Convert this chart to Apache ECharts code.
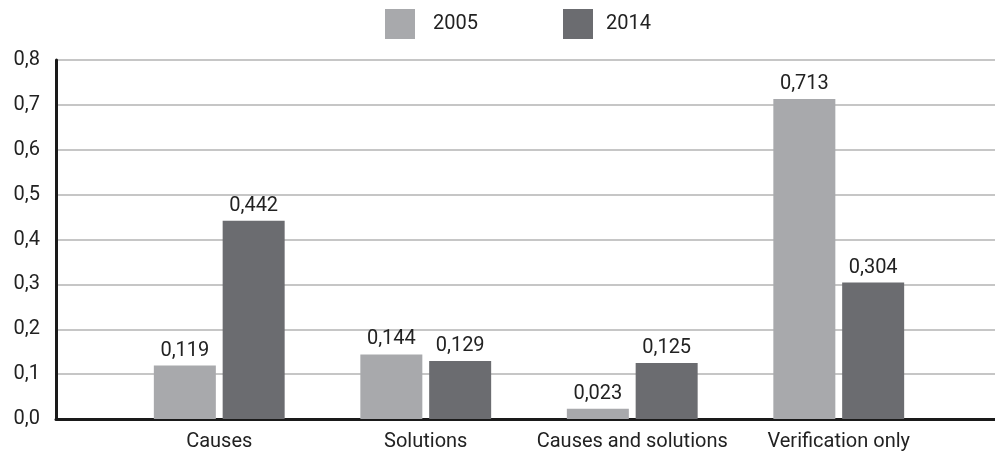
<!DOCTYPE html>
<html>
<head>
<meta charset="utf-8">
<script src="https://cdn.jsdelivr.net/npm/echarts@6/dist/echarts.min.js"></script>
<style>
  html, body { margin: 0; padding: 0; background: #fff; }
  #chart { width: 995px; height: 457px; }
</style>
</head>
<body>
<div id="chart"></div>
<script>
// Categories and values per year
const categories = ['Causes', 'Solutions', 'Causes and solutions', 'Verification only'];
const values2005 = [0.119, 0.144, 0.023, 0.713];
const values2014 = [0.442, 0.129, 0.125, 0.304];
const yTicks = [0, 0.1, 0.2, 0.3, 0.4, 0.5, 0.6, 0.7, 0.8];

const FONT = 'Roboto';
const FS = 20;
const TEXT = '#222222';
const comma = (v, d) => v.toFixed(d).replace('.', ',');

const chart = echarts.init(document.getElementById('chart'));

const plotTop = 60, plotBottom = 457 - 419;
const yMin = yTicks[0], yMax = yTicks[yTicks.length - 1], yStep = yTicks[1] - yTicks[0];

const valueLabel = {
  show: true, position: 'top', distance: 5,
  fontFamily: FONT, fontSize: FS, color: TEXT,
  formatter: p => comma(p.value, 3)
};

chart.setOption({
  animation: false,
  textStyle: { fontFamily: FONT, color: TEXT },
  legend: [
    {
      data: ['2005'], left: 385, top: 9, padding: 0,
      itemWidth: 30, itemHeight: 30, itemGap: 0,
      icon: 'rect',
      textStyle: { fontFamily: FONT, fontSize: FS, color: TEXT, padding: [0, 0, 0, 13] }
    },
    {
      data: ['2014'], left: 563, top: 9, padding: 0,
      itemWidth: 30, itemHeight: 30, itemGap: 0,
      icon: 'rect',
      textStyle: { fontFamily: FONT, fontSize: FS, color: TEXT, padding: [0, 0, 0, 8] }
    }
  ],
  grid: [
    // frame: axis lines and gridlines
    { left: 56, right: 0, top: plotTop, bottom: plotBottom },
    // bar area
    { left: 116, right: 53, top: plotTop, bottom: plotBottom }
  ],
  xAxis: [
    {
      gridIndex: 0, type: 'value', min: 0, max: 1,
      axisLine: { show: true, onZero: false, lineStyle: { color: '#1a1a1a', width: 3 } },
      axisTick: { show: false }, axisLabel: { show: false }, splitLine: { show: false }
    },
    {
      gridIndex: 1, type: 'category', data: categories,
      axisLine: { show: false }, axisTick: { show: false },
      axisLabel: { interval: 0, fontFamily: FONT, fontSize: FS, color: TEXT, margin: 13 }
    }
  ],
  yAxis: [
    {
      gridIndex: 0, type: 'value', min: yMin, max: yMax, interval: yStep,
      axisLine: { show: true, lineStyle: { color: '#1a1a1a', width: 3 } },
      axisTick: { show: false },
      splitLine: { show: true, lineStyle: { color: '#c6c6c6', width: 2 } },
      axisLabel: {
        fontFamily: FONT, fontSize: FS, color: TEXT, margin: 16,
        formatter: v => comma(v, 1)
      }
    },
    {
      gridIndex: 1, type: 'value', min: yMin, max: yMax, interval: yStep,
      show: false
    }
  ],
  series: [
    {
      name: '2005', type: 'bar', xAxisIndex: 1, yAxisIndex: 1,
      data: values2005, barWidth: 62, barGap: '11%',
      itemStyle: { color: '#a8a9ac' },
      label: valueLabel
    },
    {
      name: '2014', type: 'bar', xAxisIndex: 1, yAxisIndex: 1,
      data: values2014, barWidth: 62, barGap: '11%',
      itemStyle: { color: '#6b6c70' },
      label: valueLabel
    }
  ]
});
</script>
</body>
</html>
